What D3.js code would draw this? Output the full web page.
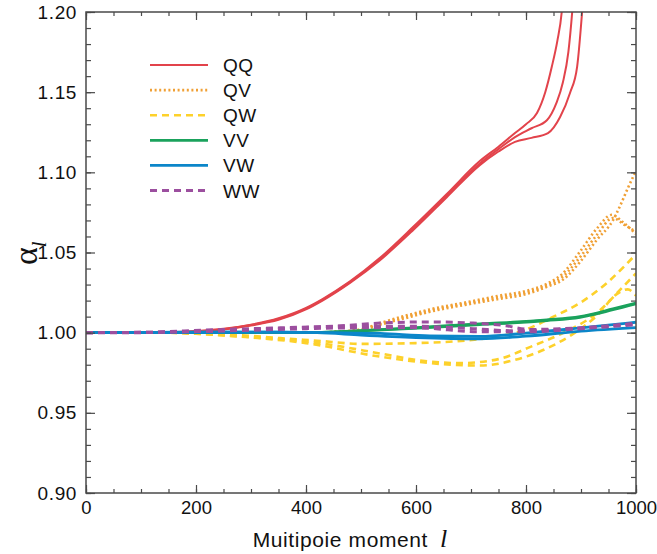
<!DOCTYPE html>
<html><head><meta charset="utf-8">
<script src="https://cdn.jsdelivr.net/npm/d3@7"></script>
<style>
html,body{margin:0;padding:0;background:#fff;}
svg{display:block;}
</style></head>
<body>
<svg id="chart" width="657" height="554"></svg>
<script>
// ---- data (l, alpha_l) ----
const QQ1 = [[0,1],[100,1],[150,1.0002],[200,1.0008],[250,1.002],[300,1.0045],[350,1.008],[400,1.0145],[430,1.020],[480,1.031],[534,1.045],[595,1.064],[656,1.0845],[716,1.1045],[750,1.113],[780,1.119],[810,1.1215],[840,1.1245],[862,1.1345],[880,1.1495],[893,1.166],[902,1.20],[910,1.24]];
const QQ2 = [[0,1],[100,1],[150,1.0002],[200,1.0009],[250,1.0022],[300,1.0048],[350,1.0085],[400,1.015],[430,1.0205],[480,1.0315],[534,1.0458],[595,1.065],[656,1.0855],[716,1.1055],[750,1.1145],[780,1.122],[810,1.1275],[838,1.1325],[855,1.143],[867,1.156],[877,1.175],[884,1.20],[892,1.24]];
const QQ3 = [[0,1],[100,1],[150,1.0002],[200,1.001],[250,1.0024],[300,1.005],[350,1.009],[400,1.0155],[430,1.021],[480,1.032],[534,1.0465],[595,1.066],[656,1.0865],[716,1.107],[750,1.116],[780,1.1245],[800,1.130],[820,1.137],[835,1.150],[847,1.166],[857,1.182],[865,1.20],[873,1.24]];

const QV1 = [[0,1],[400,1],[450,1.0005],[500,1.002],[535,1.006],[580,1.0105],[625,1.0145],[700,1.0195],[750,1.023],[800,1.026],[838,1.0305],[867,1.037],[898,1.0505],[929,1.065],[956,1.0735],[976,1.069],[1000,1.0615]];
const QV2 = [[0,1],[400,1],[450,1.0003],[500,1.0015],[535,1.005],[580,1.009],[625,1.013],[700,1.018],[750,1.021],[800,1.024],[838,1.0286],[867,1.033],[898,1.044],[929,1.058],[958,1.070],[971,1.079],[985,1.09],[1000,1.101]];
const QV3 = [[0,1],[400,1],[450,1.0004],[500,1.0018],[535,1.0055],[580,1.0098],[625,1.0138],[700,1.0188],[750,1.022],[800,1.025],[838,1.0295],[867,1.035],[898,1.047],[929,1.061],[958,1.0715],[980,1.067],[1000,1.063]];

const QW1 = [[0,1],[150,1],[200,0.9995],[300,0.998],[353,0.9966],[420,0.995],[500,0.993],[600,0.9935],[716,0.996],[800,1.002],[849,1.0098],[898,1.0185],[947,1.031],[1000,1.049]];
const QW2 = [[0,1],[150,1],[200,0.9993],[300,0.9972],[413,0.994],[535,0.987],[600,0.983],[680,0.981],[750,0.9835],[807,0.991],[867,0.9998],[929,1.0123],[976,1.0285],[1000,1.037]];
const QW3 = [[0,1],[150,1],[200,0.9993],[300,0.997],[400,0.9935],[535,0.985],[644,0.9805],[716,0.9795],[780,0.983],[830,0.989],[880,0.998],[930,1.011],[965,1.024],[985,1.027],[1000,1.023]];

const VV1 = [[0,1],[400,1],[450,1.0005],[500,1.0013],[595,1.003],[716,1.0055],[776,1.0065],[838,1.008],[898,1.010],[958,1.0148],[1000,1.0185]];
const VV2 = [[0,1],[400,1],[450,1.0004],[500,1.0011],[595,1.0027],[716,1.0051],[776,1.0061],[838,1.0076],[898,1.0096],[958,1.0143],[1000,1.018]];

const VW1 = [[0,1],[350,1.0003],[420,1.0],[500,0.9985],[600,0.997],[716,0.9962],[800,0.9978],[900,1.001],[1000,1.0032]];
const VW2 = [[0,1],[350,1.0003],[450,1.0],[535,0.9995],[625,0.998],[716,0.9977],[800,0.9997],[900,1.003],[1000,1.0065]];

const WW1 = [[0,1],[100,1],[171,1.001],[250,1.002],[353,1.003],[475,1.0045],[535,1.006],[625,1.0067],[704,1.006],[760,1.0045],[807,1.002],[898,1.003],[1000,1.006]];
const WW2 = [[0,1],[171,1.0005],[300,1.0015],[400,1.0025],[500,1.003],[600,1.003],[716,1.0005],[800,1.0005],[900,1.0025],[1000,1.005]];
const WW3 = [[0,1],[200,1.0008],[350,1.0025],[475,1.004],[600,1.004],[704,1.0025],[776,1.0012],[900,1.0028],[1000,1.0055]];

const seriesNames = ["QQ","QV","QW","VV","VW","WW"];
const seriesCurves = {QQ:[QQ1,QQ2,QQ3], QV:[QV1,QV2,QV3], QW:[QW1,QW2,QW3], VV:[VV1,VV2], VW:[VW1,VW2], WW:[WW1,WW2,WW3]};

const xMajorTicks = [0,200,400,600,800,1000];
const yMajorTicks = [0.90,0.95,1.00,1.05,1.10,1.15,1.20];

// ---- styles ----
const styles = {
  QQ:{color:"#e2434b", width:2, dash:null, cap:"butt"},
  QV:{color:"#f0a035", width:2.6, dash:"2,2.6", cap:"butt"},
  QW:{color:"#fdd12b", width:2.6, dash:"7,5", cap:"butt"},
  VV:{color:"#1aa25c", width:2.8, dash:null, cap:"butt"},
  VW:{color:"#0b86c9", width:2.8, dash:null, cap:"butt"},
  WW:{color:"#9c4f9f", width:3, dash:"7,5", cap:"butt"}
};

const svg = d3.select("#chart");
const L = 86, R = 636, T = 12, B = 493;
const x = d3.scaleLinear().domain([0,1000]).range([L,R]);
const y = d3.scaleLinear().domain([0.90,1.20]).range([B,T]);

svg.append("defs").append("clipPath").attr("id","clip")
  .append("rect").attr("x",L).attr("y",T).attr("width",R-L).attr("height",B-T);

const line = d3.line().x(d=>x(d[0])).y(d=>y(d[1])).curve(d3.curveMonotoneX);

const plot = svg.append("g").attr("clip-path","url(#clip)");
seriesNames.forEach(name=>{
  const s = styles[name];
  seriesCurves[name].forEach(c=>{
    plot.append("path").datum(c).attr("d",line)
      .attr("fill","none").attr("stroke",s.color).attr("stroke-width",s.width)
      .attr("stroke-dasharray",s.dash).attr("stroke-linecap",s.cap);
  });
});

// ---- axes ----
const axisColor = "#4a4a4a";
const tickFont = "Liberation Sans, Arial, Helvetica, sans-serif";
const xMinor = d3.range(0,1001,50);
const yMinor = d3.range(0,31).map(i=>+(0.90+i*0.01).toFixed(2));

function styleAxis(size, ls){
  return g => {
    g.select(".domain").remove();
    g.selectAll("line").attr("stroke",axisColor).attr("stroke-width",1.2);
    g.selectAll("text").attr("fill","#111").style("font-family",tickFont).style("font-size",size+"px").style("letter-spacing",ls+"px");
  };
}
svg.append("g").attr("transform",`translate(0,${B})`)
  .call(d3.axisBottom(x).tickValues(xMinor).tickSize(-4).tickFormat("")).call(styleAxis(18,0));
svg.append("g").attr("transform",`translate(0,${B})`)
  .call(d3.axisBottom(x).tickValues(xMajorTicks).tickSize(-8).tickPadding(8).tickFormat(d3.format("d"))).call(styleAxis(18.5,0));
svg.append("g").attr("transform",`translate(0,${T})`)
  .call(d3.axisTop(x).tickValues(xMinor).tickSize(-4).tickFormat("")).call(styleAxis(18,0));
svg.append("g").attr("transform",`translate(0,${T})`)
  .call(d3.axisTop(x).tickValues(xMajorTicks).tickSize(-8).tickFormat("")).call(styleAxis(18,0));
svg.append("g").attr("transform",`translate(${L},0)`)
  .call(d3.axisLeft(y).tickValues(yMinor).tickSize(-5).tickFormat("")).call(styleAxis(18,0));
svg.append("g").attr("transform",`translate(${L},0)`)
  .call(d3.axisLeft(y).tickValues(yMajorTicks).tickSize(-9).tickPadding(9).tickFormat(d3.format(".2f"))).call(styleAxis(19,0.6));
svg.append("g").attr("transform",`translate(${R},0)`)
  .call(d3.axisRight(y).tickValues(yMinor).tickSize(-5).tickFormat("")).call(styleAxis(18,0));
svg.append("g").attr("transform",`translate(${R},0)`)
  .call(d3.axisRight(y).tickValues(yMajorTicks).tickSize(-9).tickFormat("")).call(styleAxis(18,0));

svg.append("rect").attr("x",L).attr("y",T).attr("width",R-L).attr("height",B-T)
  .attr("fill","none").attr("stroke",axisColor).attr("stroke-width",1.5);

// ---- axis titles ----
const xt = svg.append("text").attr("x",350).attr("y",547).attr("text-anchor","middle")
  .style("font-family",tickFont).style("font-size","21px").attr("fill","#111");
xt.append("tspan").style("letter-spacing","0.6px").text("Muitipoie moment");
xt.append("tspan").attr("dx",12).style("font-family","Liberation Serif, serif").style("font-style","italic").style("font-size","26px").text("l");

const yt = svg.append("text").attr("transform","translate(37,265) rotate(-90)").attr("text-anchor","start").attr("fill","#111");
yt.append("tspan").style("font-family","Liberation Serif, serif").style("font-size","34px").text("α");
yt.append("tspan").attr("dy",9).style("font-family","Liberation Serif, serif").style("font-style","italic").style("font-size","21px").text("l");

// ---- legend ----
const legY0 = 65, legDY = 25.1;
seriesNames.forEach((name,i)=>{
  const s = styles[name];
  const yy = legY0 + i*legDY;
  svg.append("line").attr("x1",150).attr("x2",208).attr("y1",yy).attr("y2",yy)
    .attr("stroke",s.color).attr("stroke-width",s.width).attr("stroke-dasharray",s.dash);
  svg.append("text").attr("x",223).attr("y",yy+7).text(name)
    .style("font-family",tickFont).style("font-size","19px").style("letter-spacing","0.5px").attr("fill","#111");
});
</script>
</body></html>
